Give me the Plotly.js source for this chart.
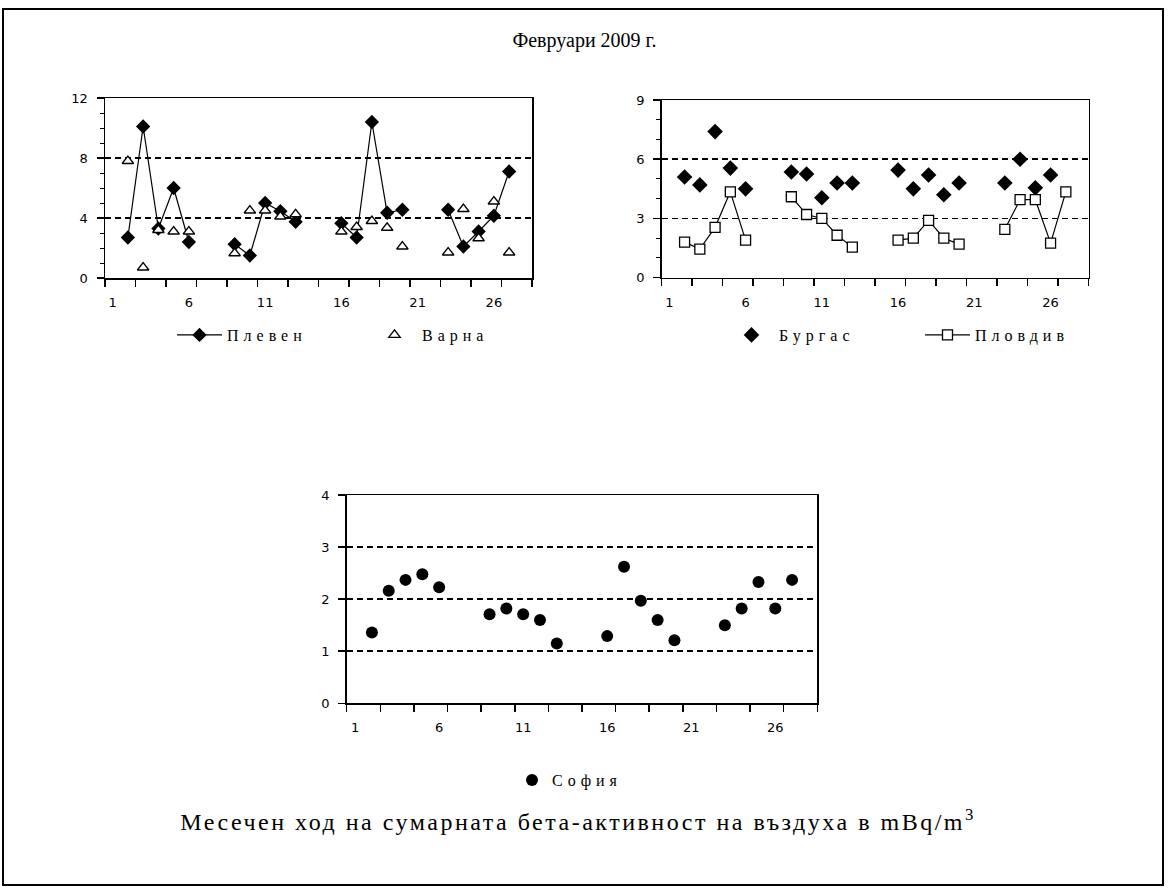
<!DOCTYPE html>
<html>
<head>
<meta charset="utf-8">
<script src="https://cdn.plot.ly/plotly-3.0.1.min.js"></script>
<style>
html,body{margin:0;padding:0;background:#fff;}
#chart{width:1169px;height:889px;}
#chart .legendtext, #chart .legend2text, #chart .legend3text{letter-spacing:5px;}
#chart .annotation-text{letter-spacing:2.5px;}
</style>
</head>
<body>
<div id="chart"></div>
<script>
// Days of February 2009
const days = [1,2,3,4,5,6,7,8,9,10,11,12,13,14,15,16,17,18,19,20,21,22,23,24,25,26,27,28];
const xTickVals = [1,6,11,16,21,26];

// Values in mBq/m3 (null = no measurement)
const pleven  = [null,2.7,10.1,3.3,6.0,2.4,null,null,2.25,1.5,5.0,4.45,3.75,null,null,3.65,2.7,10.4,4.35,4.55,null,null,4.55,2.1,3.1,4.15,7.1,null];
const varna   = [null,7.8,0.7,3.2,3.1,3.1,null,null,1.65,4.5,4.5,4.1,4.25,null,null,3.1,3.4,3.8,3.35,2.1,null,null,1.7,4.6,2.65,5.1,1.7,null];
const burgas  = [null,5.1,4.7,7.4,5.55,4.5,null,null,5.35,5.25,4.05,4.8,4.8,null,null,5.45,4.5,5.2,4.2,4.8,null,null,4.8,6.0,4.55,5.2,null,null];
const plovdiv = [null,1.8,1.45,2.55,4.35,1.9,null,null,4.1,3.2,3.0,2.15,1.55,null,null,1.9,2.0,2.9,2.0,1.7,null,null,2.45,3.95,3.95,1.75,4.35,null];
const sofia   = [null,1.36,2.16,2.37,2.48,2.23,null,null,1.71,1.82,1.71,1.6,1.15,null,null,1.29,2.62,1.97,1.6,1.21,null,null,1.5,1.82,2.33,1.82,2.37,null];

const titleText = 'Февруари 2009 г.';
const captionText = 'Месечен ход на сумарната бета-активност на въздуха в mBq/m<sup>3</sup>';

const W = 1169, H = 889;
const px = v => v / W;
const py = v => 1 - v / H;

const tickFont = {family: 'DejaVu Sans, Arial, sans-serif', size: 13, color: '#000'};
const legFont = {family: 'Liberation Serif, Times New Roman, serif', size: 16, color: '#000'};

function xAxis(x0, x1, anchor) {
  return {
    domain: [px(x0), px(x1)], anchor: anchor, range: [0.5, 28.5],
    tickmode: 'array', tickvals: xTickVals, ticks: '', ticklabelstandoff: 12,
    showline: true, linecolor: '#000', linewidth: 1.5, mirror: true,
    showgrid: false, zeroline: false, tickfont: tickFont,
    minor: {tickmode: 'linear', tick0: 0.5, dtick: 2, ticks: 'outside', ticklen: 7, tickwidth: 1.5, tickcolor: '#000', showgrid: false}
  };
}
function yAxis(y0, y1, anchor, top, step, minorStep) {
  const ax = {
    domain: [py(y1), py(y0)], anchor: anchor, range: [0, top],
    tickmode: 'linear', tick0: 0, dtick: step, ticks: 'outside', ticklen: 7, tickwidth: 1.5, tickcolor: '#000',
    ticklabelstandoff: 6,
    showline: true, linecolor: '#000', linewidth: 1.5, mirror: true,
    showgrid: true, gridcolor: '#000', gridwidth: 1.5, griddash: '6px,4px',
    zeroline: false, tickfont: tickFont
  };
  if (minorStep) ax.minor = {tickmode: 'linear', tick0: 0, dtick: minorStep, ticks: 'outside', ticklen: 4, tickwidth: 1, tickcolor: '#000', showgrid: false};
  return ax;
}

const traces = [
  {x: days, y: pleven, name: 'Плевен', type: 'scatter', mode: 'lines+markers', connectgaps: false,
   xaxis: 'x', yaxis: 'y', legend: 'legend',
   line: {color: '#000', width: 1.2}, marker: {symbol: 'diamond', size: 11, color: '#000'}},
  {x: days, y: varna, name: 'Варна', type: 'scatter', mode: 'markers',
   xaxis: 'x', yaxis: 'y', legend: 'legend',
   marker: {symbol: 'triangle-up', size: 10, color: '#fff', line: {color: '#000', width: 1.3}}},
  {x: days, y: burgas, name: 'Бургас', type: 'scatter', mode: 'markers',
   xaxis: 'x2', yaxis: 'y2', legend: 'legend2',
   marker: {symbol: 'diamond', size: 12, color: '#000'}},
  {x: days, y: plovdiv, name: 'Пловдив', type: 'scatter', mode: 'lines+markers', connectgaps: false,
   xaxis: 'x2', yaxis: 'y2', legend: 'legend2',
   line: {color: '#000', width: 1.2}, marker: {symbol: 'square', size: 10, color: '#fff', line: {color: '#000', width: 1.3}}},
  {x: days, y: sofia, name: 'София', type: 'scatter', mode: 'markers',
   xaxis: 'x3', yaxis: 'y3', legend: 'legend3',
   marker: {symbol: 'circle', size: 12, color: '#000'}}
];

const legendBase = {orientation: 'h', xanchor: 'left', yanchor: 'middle', bgcolor: 'rgba(0,0,0,0)', borderwidth: 0, font: legFont};

const layout = {
  width: W, height: H,
  margin: {l: 0, r: 0, t: 0, b: 0},
  paper_bgcolor: '#fff', plot_bgcolor: '#fff',
  title: {text: titleText, x: 0.5, xanchor: 'center', y: py(40), yanchor: 'middle', yref: 'paper',
          font: {family: 'Liberation Serif, Times New Roman, serif', size: 20, color: '#000'}},
  xaxis: xAxis(105, 532, 'y'),
  yaxis: yAxis(98, 278, 'x', 12, 4, 1),
  xaxis2: xAxis(661.7, 1088.7, 'y2'),
  yaxis2: yAxis(100, 277.7, 'x2', 9, 3, 1),
  xaxis3: xAxis(346.7, 817.3, 'y3'),
  yaxis3: yAxis(495, 703.3, 'x3', 4, 1, null),
  legend: Object.assign({}, legendBase, {x: px(172), y: py(335), entrywidth: 135, itemwidth: 45}),
  legend2: Object.assign({}, legendBase, {x: px(724), y: py(335), entrywidth: 136, itemwidth: 45}),
  legend3: Object.assign({}, legendBase, {x: px(512), y: py(780), entrywidth: 110}),
  annotations: [
    {text: captionText, xref: 'paper', yref: 'paper', x: px(578), y: py(820), xanchor: 'center', yanchor: 'middle', showarrow: false,
     font: {family: 'Liberation Serif, Times New Roman, serif', size: 24, color: '#000'}}
  ],
  shapes: [
    {type: 'rect', xref: 'paper', yref: 'paper', x0: px(3), x1: px(1163), y0: py(885), y1: py(9), line: {color: '#000', width: 2}, layer: 'below'}
  ],
  showlegend: true
};

Plotly.newPlot('chart', traces, layout, {displayModeBar: false, staticPlot: true});
</script>
</body>
</html>
